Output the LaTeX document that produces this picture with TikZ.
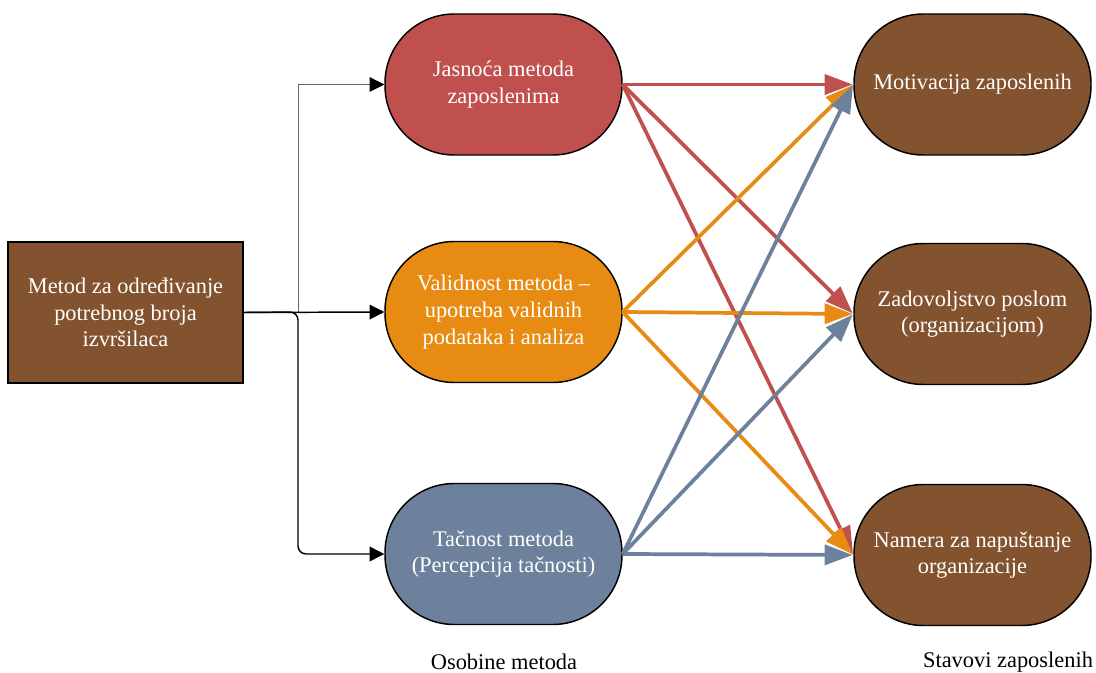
\documentclass[tikz,border=0pt]{standalone}
\usepackage{fontspec}
\setmainfont{Liberation Serif}
\usetikzlibrary{arrows.meta}
\definecolor{brownf}{RGB}{131,82,47}
\definecolor{redf}{RGB}{192,80,77}
\definecolor{orangef}{RGB}{231,139,18}
\definecolor{slatef}{RGB}{109,129,156}
\begin{document}
\begin{tikzpicture}[x=0.75pt,y=-0.75pt,
  txt/.style={font=\fontsize{16.8}{20}\selectfont, align=center},
  pill/.style={txt, draw=black, line width=1.1pt, rounded corners=52pt, minimum width=177.75pt, minimum height=105.75pt, text=white, inner sep=0pt},
  box/.style={txt, draw=black, line width=1.1pt, fill=brownf, minimum width=176.25pt, minimum height=105.75pt, text=white, inner sep=0pt},
  conn/.style={draw=black, line width=1.1pt, -{Triangle[length=11pt,width=11pt]}},
  thinconn/.style={draw=black!60, line width=0.7pt, -{Triangle[length=11pt,width=11pt,color=black]}},
  carrow/.style={line width=2.8pt, -{Triangle[length=21pt,width=15pt]}, shorten >=0.5pt},
  label/.style={txt, text=black}]
\useasboundingbox (0,0) rectangle (1096,673);

\node[box] (src) at (125.5,312.5) {Metod za određivanje\\potrebnog broja\\izvršilaca};

\node[pill, fill=redf] (jas) at (503.5,84.5) {Jasnoća metoda\\zaposlenima};
\node[pill, fill=orangef] (val) at (503.5,312) {Validnost metoda –\\upotreba validnih\\podataka i analiza};
\node[pill, fill=slatef] (tac) at (503.5,554) {Tačnost metoda\\(Percepcija tačnosti)};

\node[pill, fill=brownf] (mot) at (972.5,84.5) {Motivacija zaposlenih};
\node[pill, fill=brownf] (zad) at (972.5,314) {Zadovoljstvo poslom\\(organizacijom)};
\node[pill, fill=brownf] (nam) at (972.5,555) {Namera za napuštanje\\organizacije};

\coordinate (j) at (298,312);
\draw[thinconn] (j) |- (jas.west);
\draw[conn] (src.east) -- (val.west);
\draw[conn, rounded corners=6pt] (src.east) -- (j) |- (tac.west);

\foreach \t in {mot,zad,nam}{
  \draw[carrow, redf] (jas.east) -- (\t.west);
}
\foreach \t in {mot,zad,nam}{
  \draw[carrow, orangef] (val.east) -- (\t.west);
}
\foreach \t in {mot,zad,nam}{
  \draw[carrow, slatef] (tac.east) -- (\t.west);
}

\node[label] (l1) at (504,662) {Osobine metoda};
\node[label] (l2) at (1008,662) {Stavovi zaposlenih};
\end{tikzpicture}
\end{document}
